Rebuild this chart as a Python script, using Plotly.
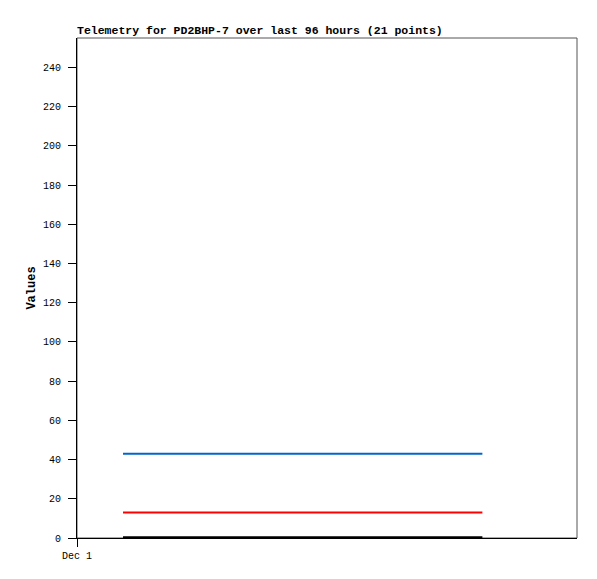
import plotly.graph_objects as go

# 21 telemetry samples, values held constant over the window
times = [
    "2024-12-01 08:50", "2024-12-01 12:17", "2024-12-01 15:44", "2024-12-01 19:11",
    "2024-12-01 22:38", "2024-12-02 02:05", "2024-12-02 05:32", "2024-12-02 08:59",
    "2024-12-02 12:26", "2024-12-02 15:53", "2024-12-02 19:20", "2024-12-02 22:47",
    "2024-12-03 02:14", "2024-12-03 05:41", "2024-12-03 09:08", "2024-12-03 12:35",
    "2024-12-03 16:02", "2024-12-03 19:29", "2024-12-03 22:56", "2024-12-04 02:23",
    "2024-12-04 05:50",
]
blue_vals = [43] * 21
red_vals = [13] * 21
black_vals = [0.4] * 21

x_range = ["2024-12-01 00:00", "2024-12-05 00:00"]
y_range = [0, 255]
y_ticks = [0, 20, 40, 60, 80, 100, 120, 140, 160, 180, 200, 220, 240]

mono = "Liberation Mono"

fig = go.Figure()
for vals, color in [(blue_vals, "#0066cc"), (red_vals, "#ff0000"), (black_vals, "#000000")]:
    fig.add_trace(go.Scatter(x=times, y=vals, mode="lines",
                             line={"color": color, "width": 2}, showlegend=False))

# grey frame on top/right, black axis lines on left/bottom
fig.add_shape(type="rect", xref="paper", yref="paper", x0=0, y0=0, x1=1, y1=1,
              line={"color": "#555555", "width": 1}, layer="below")

# page body has an 8px margin, so the figure is shrunk and shifted to match
W, H = 589, 571
fig.update_layout(
    width=W,
    height=H,
    paper_bgcolor="white",
    plot_bgcolor="white",
    margin={"l": 69, "r": 20, "t": 30, "b": 41},
    font={"family": mono, "size": 10, "color": "black"},
    title={"text": "<b>Telemetry for PD2BHP-7 over last 96 hours (21 points)</b>",
           "x": 69 / W, "xanchor": "left", "y": 1 - 26 / H, "yanchor": "bottom",
           "font": {"family": mono, "size": 11.5, "color": "black"}},
    xaxis={"range": x_range, "type": "date", "showgrid": False, "zeroline": False,
           "tickvals": ["2024-12-01 00:00"], "ticktext": ["Dec 1"],
           "ticks": "outside", "ticklen": 8, "tickcolor": "black",
           "showline": True, "linecolor": "black", "linewidth": 1},
    yaxis={"range": y_range, "showgrid": False, "zeroline": False,
           "tickvals": y_ticks, "ticks": "outside", "ticklen": 8, "tickcolor": "black",
           "ticklabelstandoff": 5,
           "showline": True, "linecolor": "black", "linewidth": 1,
           "title": {"text": "<b>Values</b>", "font": {"family": mono, "size": 12},
                     "standoff": 4}},
)

fig.write_html("out.html")
